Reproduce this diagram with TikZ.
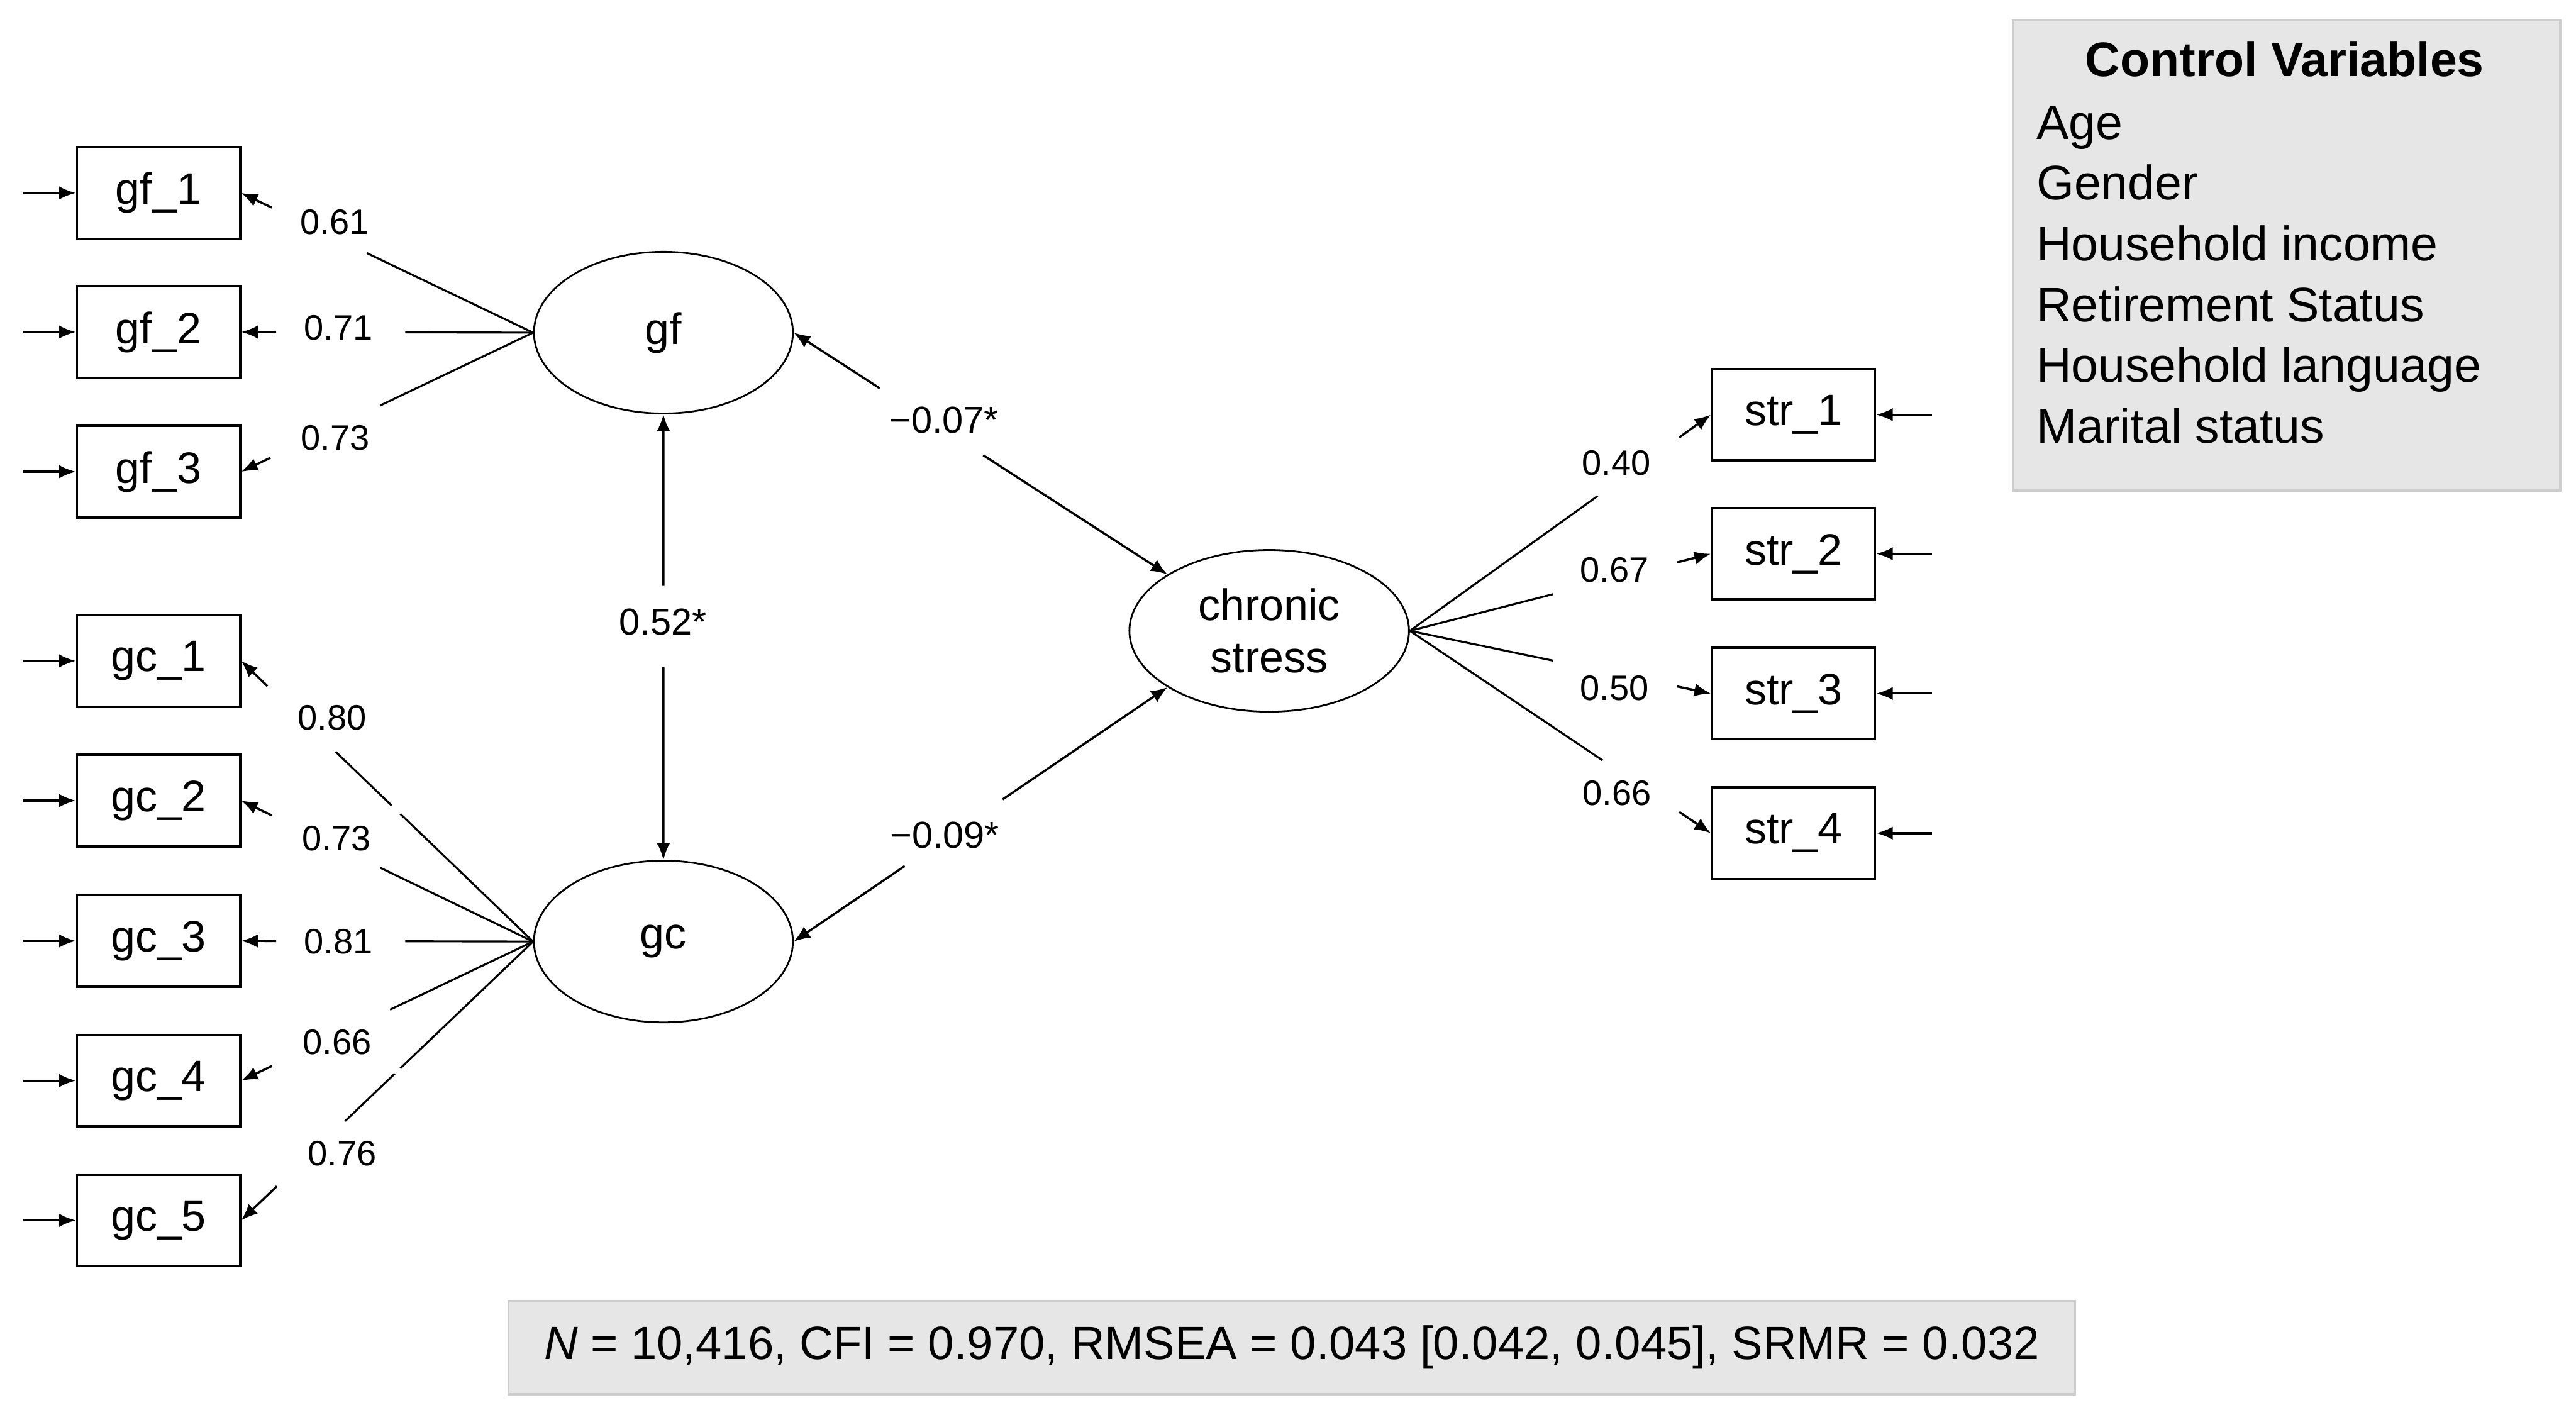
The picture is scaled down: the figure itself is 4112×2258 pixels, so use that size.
\documentclass[tikz,border=0pt]{standalone}
\usepackage{fontspec}
\setmainfont{Liberation Sans}
\usetikzlibrary{arrows.meta,calc,shapes.geometric}
\definecolor{boxfill}{RGB}{231,230,230}
\definecolor{boxline}{RGB}{205,205,205}
\begin{document}
\begin{tikzpicture}[x=0.01cm,y=-0.01cm,
  obs/.style={draw,line width=1.1pt,minimum width=2.6cm,minimum height=1.46cm,inner sep=0pt,font=\fontsize{20}{24}\selectfont},
  lat/.style={draw,ellipse,line width=0.8pt,minimum width=4.13cm,minimum height=2.58cm,inner sep=0pt,font=\fontsize{20}{23.5}\selectfont},
  arr/.style={-{Latex[length=7.5pt,width=6pt]},line width=1pt},
  ln/.style={line width=0.9pt},
  lbl/.style={font=\fontsize{16}{19}\selectfont,inner sep=0pt},
  slbl/.style={font=\fontsize{17}{20}\selectfont,inner sep=0pt},
  gbox/.style={draw=boxline,fill=boxfill,line width=1pt,inner sep=0pt}]
\useasboundingbox (0,0) rectangle (4112,2258);

% observed indicators
\node[obs] (gf1) at (253,308) {gf\_1};
\node[obs] (gf2) at (253,530) {gf\_2};
\node[obs] (gf3) at (253,753) {gf\_3};
\node[obs] (gc1) at (253,1055) {gc\_1};
\node[obs] (gc2) at (253,1278) {gc\_2};
\node[obs] (gc3) at (253,1502) {gc\_3};
\node[obs] (gc4) at (253,1725) {gc\_4};
\node[obs] (gc5) at (253,1948) {gc\_5};
\node[obs] (str1) at (2863,662) {str\_1};
\node[obs] (str2) at (2863,884) {str\_2};
\node[obs] (str3) at (2863,1107) {str\_3};
\node[obs] (str4) at (2863,1330) {str\_4};

% latent variables
\node[lat] (gf) at (1059,531) {gf};
\node[lat] (gc) at (1059,1503) {gc};
\node[lat,minimum width=4.46cm,align=center] (cs) at (2026,1007) {chronic\\stress};

% error arrows
\foreach \n in {gf1,gf2,gf3,gc1,gc2,gc3,gc4,gc5}
  \draw[arr] ($(\n.west)+(-84,0)$) -- (\n.west);
\foreach \n in {str1,str2,str3,str4}
  \draw[arr] ($(\n.east)+(89,0)$) -- (\n.east);

% gf loadings
\draw[ln] (gf.west) -- ($(gf.west)!0.569!(gf1.east)$);
\draw[arr] ($(gf.west)!0.895!(gf1.east)$) -- (gf1.east);
\draw[ln] (gf.west) -- ($(gf.west)!0.438!(gf2.east)$);
\draw[arr] ($(gf.west)!0.88!(gf2.east)$) -- (gf2.east);
\draw[ln] (gf.west) -- ($(gf.west)!0.524!(gf3.east)$);
\draw[arr] ($(gf.west)!0.90!(gf3.east)$) -- (gf3.east);

% gc loadings
\draw[ln] (gc.west) -- ($(gc.west)!0.455!(gc1.east)$);
\draw[ln] ($(gc.west)!0.485!(gc1.east)$) -- ($(gc.west)!0.676!(gc1.east)$);
\draw[arr] ($(gc.west)!0.91!(gc1.east)$) -- (gc1.east);
\draw[ln] (gc.west) -- ($(gc.west)!0.524!(gc2.east)$);
\draw[arr] ($(gc.west)!0.895!(gc2.east)$) -- (gc2.east);
\draw[ln] (gc.west) -- ($(gc.west)!0.438!(gc3.east)$);
\draw[arr] ($(gc.west)!0.88!(gc3.east)$) -- (gc3.east);
\draw[ln] (gc.west) -- ($(gc.west)!0.49!(gc4.east)$);
\draw[arr] ($(gc.west)!0.895!(gc4.east)$) -- (gc4.east);
\draw[ln] (gc.west) -- ($(gc.west)!0.455!(gc5.east)$);
\draw[ln] ($(gc.west)!0.474!(gc5.east)$) -- ($(gc.west)!0.644!(gc5.east)$);
\draw[arr] ($(gc.west)!0.878!(gc5.east)$) -- (gc5.east);

% stress loadings
\draw[ln] (cs.east) -- ($(cs.east)!0.624!(str1.west)$);
\draw[arr] ($(cs.east)!0.895!(str1.west)$) -- (str1.west);
\draw[ln] (cs.east) -- ($(cs.east)!0.475!(str2.west)$);
\draw[arr] ($(cs.east)!0.888!(str2.west)$) -- (str2.west);
\draw[ln] (cs.east) -- ($(cs.east)!0.475!(str3.west)$);
\draw[arr] ($(cs.east)!0.888!(str3.west)$) -- (str3.west);
\draw[ln] (cs.east) -- ($(cs.east)!0.64!(str4.west)$);
\draw[arr] ($(cs.east)!0.895!(str4.west)$) -- (str4.west);

% structural paths
\draw[arr] ($(gf.east)!0.23!(cs.151)$) -- (gf.east);
\draw[arr] ($(gf.east)!0.507!(cs.151)$) -- (cs.151);
\draw[arr] ($(gc.east)!0.297!(cs.209)$) -- (gc.east);
\draw[arr] ($(gc.east)!0.559!(cs.209)$) -- (cs.209);
\draw[arr] ($(gf.south)!0.385!(gc.north)$) -- (gf.south);
\draw[arr] ($(gf.south)!0.567!(gc.north)$) -- (gc.north);

% labels
\node[lbl] (lgf1) at (534,355) {0.61};
\node[lbl] (lgf2) at (540,523) {0.71};
\node[lbl] (lgf3) at (535,699) {0.73};
\node[lbl] (lgc1) at (530,1146) {0.80};
\node[lbl] (lgc2) at (537,1338) {0.73};
\node[lbl] (lgc3) at (540,1503) {0.81};
\node[lbl] (lgc4) at (538,1664) {0.66};
\node[lbl] (lgc5) at (546,1841) {0.76};
\node[lbl] (ls1) at (2580,739) {0.40};
\node[lbl] (ls2) at (2577,910) {0.67};
\node[lbl] (ls3) at (2577,1098) {0.50};
\node[lbl] (ls4) at (2581,1266) {0.66};
\node[slbl] (lgfcs) at (1507,671) {−0.07*};
\node[slbl] (lgccs) at (1508,1333) {−0.09*};
\node[slbl] (lgfgc) at (1058,993) {0.52*};

% control variables box
\node[gbox,minimum width=8.73cm,minimum height=7.5cm] (ctrl) at (3650,408) {};
\node[anchor=base,font=\bfseries\fontsize{22}{26}\selectfont] (ctitle) at (3647,122) {Control Variables};
\begin{scope}[every node/.style={anchor=base west,font=\fontsize{22}{26}\selectfont,inner sep=0pt}]
\node (c1) at (3250,222) {Age};
\node (c2) at (3250,319) {Gender};
\node (c3) at (3250,416) {Household income};
\node (c4) at (3250,513) {Retirement Status};
\node (c5) at (3250,610) {Household language};
\node (c6) at (3250,707) {Marital status};
\end{scope}

% fit box
\node[gbox,minimum width=24.99cm,minimum height=1.49cm,font=\fontsize{21.2}{25}\selectfont] (fit) at (2062,2151) {\textit{N} = 10,416, CFI = 0.970, RMSEA = 0.043 [0.042, 0.045], SRMR = 0.032};
\end{tikzpicture}
\end{document}
